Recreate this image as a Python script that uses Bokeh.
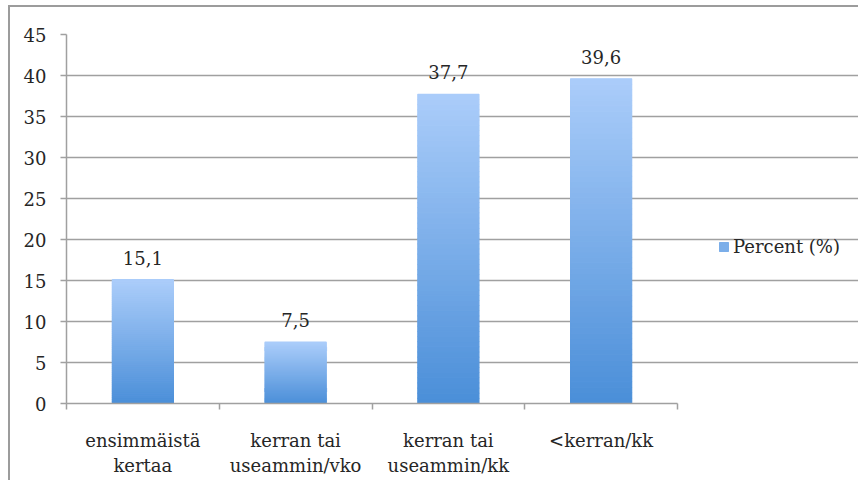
from bokeh.plotting import figure
from bokeh.models import (Range1d, FixedTicker, Legend, LegendItem,
                          ColumnDataSource)
from bokeh.embed import file_html
from bokeh.resources import INLINE
from bokeh.core.properties import value

# --- data -------------------------------------------------------------
categories = ["ensimmäistä\nkertaa", "kerran tai\nuseammin/vko",
              "kerran tai\nuseammin/kk", "<kerran/kk"]
percent = [15.1, 7.5, 37.7, 39.6]
value_labels = ["15,1", "7,5", "37,7", "39,6"]
y_ticks = [0, 5, 10, 15, 20, 25, 30, 35, 40, 45]
series_name = "Percent (%)"

# --- styling ----------------------------------------------------------
FONT = "DejaVu Serif"
FONT_SIZE = "18px"
TEXT_COLOR = "#262626"
GRID_COLOR = "#a0a0a0"
TOP_RGB = (0xab, 0xcd, 0xfa)
BOTTOM_RGB = (0x4a, 0x8e, 0xd8)
BAR_WIDTH = 0.4
SLICES = 60

# canvas geometry (px): the plotting frame runs to the right edge so the
# legend can live inside it; axis and grid are bounded to the categories
CANVAS_W, CANVAS_H = 850, 475
LEFT, TOP, BOTTOM = 56, 27, 79
AXIS_PX = 611  # width taken by the category axis

n = len(categories)
centers = [i + 0.5 for i in range(n)]
bounds = [float(i) for i in range(n + 1)]
x_end = n * (CANVAS_W - LEFT) / AXIS_PX


def blend(t):
    r, g, b = (round(lo + (hi - lo) * t) for lo, hi in zip(BOTTOM_RGB, TOP_RGB))
    return "#%02x%02x%02x" % (r, g, b)


# each bar is split into thin horizontal slices to give a vertical gradient
sl = dict(left=[], right=[], bottom=[], top=[], color=[])
for c, v in zip(centers, percent):
    for k in range(SLICES):
        sl["left"].append(c - BAR_WIDTH / 2)
        sl["right"].append(c + BAR_WIDTH / 2)
        sl["bottom"].append(v * k / SLICES)
        sl["top"].append(v * (k + 1) / SLICES)
        sl["color"].append(blend((k + 0.5) / SLICES))
slices = ColumnDataSource(sl)

labels = ColumnDataSource(dict(x=centers, y=percent, text=value_labels))

p = figure(width=CANVAS_W, height=CANVAS_H,
           x_range=Range1d(0, x_end), y_range=Range1d(0, 45),
           output_backend="svg", toolbar_location=None,
           min_border_left=LEFT, min_border_right=0,
           min_border_top=TOP, min_border_bottom=BOTTOM,
           outline_line_color=None)
p.margin = (5, 0, 0, 8)
p.styles = {"border-left": "2px solid #9c9c9c",
            "border-top": "2px solid #9c9c9c"}

bars = p.quad(left="left", right="right", bottom="bottom", top="top",
              source=slices, fill_color="color", line_color="color",
              line_width=1.2)

p.text(x="x", y="y", text="text", source=labels,
       text_align="center", text_baseline="alphabetic", y_offset=-22,
       text_font=value(FONT), text_font_size=FONT_SIZE,
       text_color=TEXT_COLOR)

# x axis: category names centred, tick marks on the category boundaries
xa = p.xaxis[0]
xa.bounds = (0, n)
xa.ticker = FixedTicker(ticks=centers, minor_ticks=bounds)
xa.major_label_overrides = {c: lab for c, lab in zip(centers, categories)}
xa.major_tick_out = 0
xa.major_tick_in = 0
xa.minor_tick_out = 6
xa.minor_tick_in = 0
xa.minor_tick_line_color = GRID_COLOR
xa.minor_tick_line_width = 1.5
xa.axis_line_color = GRID_COLOR
xa.axis_line_width = 1.5
xa.major_label_standoff = 20
xa.major_label_text_font = FONT
xa.major_label_text_font_size = FONT_SIZE
xa.major_label_text_color = TEXT_COLOR

ya = p.yaxis[0]
ya.ticker = FixedTicker(ticks=y_ticks)
ya.major_tick_out = 6
ya.major_tick_in = 0
ya.minor_tick_out = 0
ya.minor_tick_in = 0
ya.major_tick_line_color = GRID_COLOR
ya.major_tick_line_width = 1.5
ya.axis_line_color = GRID_COLOR
ya.axis_line_width = 1.5
ya.major_label_standoff = 14
ya.major_label_text_font = FONT
ya.major_label_text_font_size = FONT_SIZE
ya.major_label_text_color = TEXT_COLOR

p.xgrid.visible = False
p.ygrid.ticker = FixedTicker(ticks=y_ticks)
p.ygrid.bounds = (0, n)
p.ygrid.grid_line_color = GRID_COLOR
p.ygrid.grid_line_width = 1.5

# legend to the right of the bars
legend = Legend(items=[LegendItem(label=series_name, renderers=[bars],
                                  index=SLICES // 2)],
                location=(652, 146), margin=0, padding=0,
                border_line_color=None, background_fill_alpha=0,
                glyph_width=11, glyph_height=11, label_standoff=4,
                label_text_font=FONT, label_text_font_size=FONT_SIZE,
                label_text_color=TEXT_COLOR)
p.add_layout(legend)

open("out.html", "w").write(file_html(p, INLINE))
